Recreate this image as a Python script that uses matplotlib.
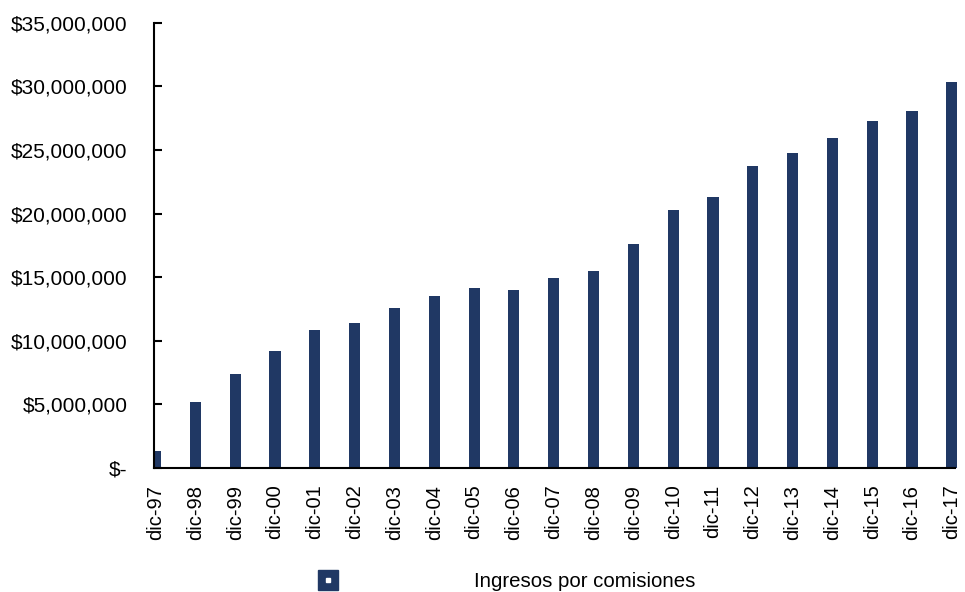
import matplotlib.pyplot as plt
from matplotlib.lines import Line2D
from matplotlib.legend_handler import HandlerTuple
from matplotlib.ticker import FuncFormatter

plt.rcParams['font.family'] = ['Liberation Sans', 'DejaVu Sans']

# data
periodos = ['dic-97', 'dic-98', 'dic-99', 'dic-00', 'dic-01', 'dic-02', 'dic-03',
            'dic-04', 'dic-05', 'dic-06', 'dic-07', 'dic-08', 'dic-09', 'dic-10',
            'dic-11', 'dic-12', 'dic-13', 'dic-14', 'dic-15', 'dic-16', 'dic-17']
ingresos = [1340000, 5160000, 7390000, 9200000, 10850000, 11400000, 12580000,
            13520000, 14150000, 14000000, 14940000, 15490000, 17600000, 20280000,
            21300000, 23740000, 24760000, 25900000, 27260000, 28070000, 30300000]
serie = 'Ingresos por comisiones'
color_barra = '#203864'

fig = plt.figure(figsize=(9.65, 5.92), dpi=100)
ax = fig.add_axes([154/965, 1 - 468/592, (955 - 154)/965, (468 - 22.7)/592])

x = list(range(len(periodos)))
barras = ax.bar(x, ingresos, width=0.28, color=color_barra, zorder=2)
# last bar sticks out past the axis end in the source, first one is cut by the y axis
barras[-1].set_clip_on(False)

ax.set_xlim(-0.04, 20.08)
ax.set_ylim(0, 35000000)
ax.set_yticks(range(0, 35000001, 5000000))
ax.yaxis.set_major_formatter(FuncFormatter(lambda v, p: '$-' if v == 0 else f'${v:,.0f}'))
ax.set_xticks(x)
ax.set_xticklabels(periodos, rotation=90)

for s in ['top', 'right']:
    ax.spines[s].set_visible(False)
for s in ['left', 'bottom']:
    ax.spines[s].set_linewidth(1.5)
    ax.spines[s].set_zorder(3)

ax.tick_params(axis='y', direction='in', length=6, width=1.5, labelsize=15, pad=19)
ax.tick_params(axis='x', direction='in', length=6, width=1.5, labelsize=14.5, pad=12)

# legend: navy square with a small white dot, like the source
h = (Line2D([], [], ls='', marker='s', ms=15, color=color_barra, zorder=1),
     Line2D([], [], ls='', marker='s', ms=2.5, color='white', zorder=2))
fig.legend([h], [serie], handler_map={tuple: HandlerTuple(ndivide=1)},
           loc='lower left', bbox_to_anchor=(307/965, 0.0), frameon=False,
           fontsize=14.7, handlelength=2, handletextpad=6.13,
           borderpad=0.05, borderaxespad=0)

fig.savefig('out.png', dpi=100)
